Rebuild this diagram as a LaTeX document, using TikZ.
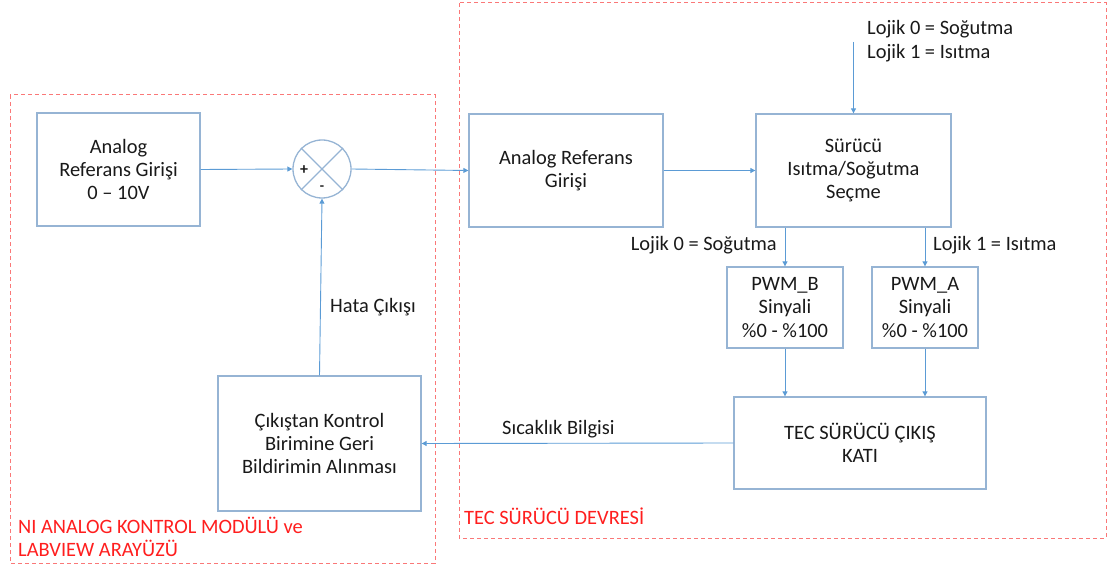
\documentclass[tikz,border=0pt]{standalone}
\usepackage{fontspec}
\setmainfont{Carlito}
\usetikzlibrary{arrows.meta}
\definecolor{boxc}{RGB}{150,180,212}
\definecolor{arrc}{RGB}{91,155,213}
\definecolor{dashc}{RGB}{250,120,120}
\definecolor{redt}{RGB}{255,30,30}
\definecolor{txt}{RGB}{25,25,25}
\tikzset{
  blk/.style={draw=boxc,line width=1.3bp,inner sep=0pt,text=txt,align=center,font=\fontsize{20.5}{23.5}\selectfont},
  arr/.style={draw=arrc,line width=0.9bp,-{Triangle[length=5bp,width=5bp]}},
  grp/.style={draw=dashc,line width=1bp,dash pattern=on 4bp off 3bp},
  lbl/.style={text=txt,font=\fontsize{20.5}{23.5}\selectfont,inner sep=0pt,align=left},
  rlbl/.style={text=redt,font=\fontsize{20.5}{23.5}\selectfont,inner sep=0pt,align=left}
}
\begin{document}
\begin{tikzpicture}[x=1bp,y=-1bp]
\useasboundingbox (0,0) rectangle (1112,572);
% groups
\draw[grp] (10,95) rectangle (435,563);
\draw[grp] (459,3) rectangle (1106,538);
% blocks
\node[blk,minimum width=163bp,minimum height=113bp] (ref1) at (118.5,169.5) {Analog\\Referans Girişi\\0 – 10V};
\node[draw=boxc,line width=1.3bp,circle,minimum size=58bp,inner sep=0pt] (sum) at (322,169) {};
\draw[boxc,line width=1.3bp] (sum.north west) -- (sum.south east) (sum.north east) -- (sum.south west);
\node[text=txt,font=\fontsize{16}{16}\selectfont\bfseries,inner sep=0pt] (plus) at (304,170) {+};
\node[text=txt,font=\fontsize{14}{14}\selectfont\bfseries,inner sep=0pt] (minus) at (322,188) {-};
\node[blk,minimum width=194bp,minimum height=113bp] (ref2) at (566,170.5) {Analog Referans\\Girişi};
\node[blk,minimum width=195bp,minimum height=113bp] (sel) at (853.5,170.5) {Sürücü\\Isıtma/Soğutma\\Seçme};
\node[blk,minimum width=116bp,minimum height=81bp] (pwmb) at (785,307.5) {PWM\_B\\Sinyali\\\%0 - \%100};
\node[blk,minimum width=106bp,minimum height=81bp] (pwma) at (925,307.5) {PWM\_A\\Sinyali\\\%0 - \%100};
\node[blk,minimum width=252bp,minimum height=92bp] (tec) at (860,443) {TEC SÜRÜCÜ ÇIKIŞ\\KATI};
\node[blk,minimum width=203bp,minimum height=135bp] (fb) at (319.5,443.5) {Çıkıştan Kontrol\\Birimine Geri\\Bildirimin Alınması};
% top input
\coordinate (topin) at (853.5,42);
\node[lbl,anchor=west] (toplbl) at (867,41) {Lojik 0 = Soğutma\\Lojik 1 = Isıtma};
% connectors
\draw[arr] (ref1.east) -- (sum.west);
\draw[arr] (sum.east) -- (ref2.west);
\draw[arr] (ref2.east) -- (sel.west);
\draw[arr] (topin) -- (sel.north);
\draw[arr] (sel.south -| pwmb.north) -- (pwmb.north);
\draw[arr] (sel.south -| pwma.north) -- (pwma.north);
\draw[arr] (pwmb.south) -- (pwmb.south |- tec.north);
\draw[arr] (pwma.south) -- (pwma.south |- tec.north);
\draw[arr] (tec.west) -- (fb.east);
\draw[arr] (fb.north) -- (sum.south);
% labels
\node[lbl,anchor=east] (l0) at (777,245) {Lojik 0 = Soğutma};
\node[lbl,anchor=west] (l1) at (933,245) {Lojik 1 = Isıtma};
\node[lbl,anchor=west] (hata) at (330,307) {Hata Çıkışı};
\node[lbl,anchor=west] (sic) at (502,429) {Sıcaklık Bilgisi};
\node[rlbl,anchor=west] (g1) at (18,525) {NI ANALOG KONTROL MODÜLÜ ve};
\node[rlbl,anchor=west] (g1b) at (18,548) {LABVIEW ARAYÜZÜ};
\node[rlbl,anchor=west] (g2) at (464,516) {TEC SÜRÜCÜ DEVRESİ};
\end{tikzpicture}
\end{document}
